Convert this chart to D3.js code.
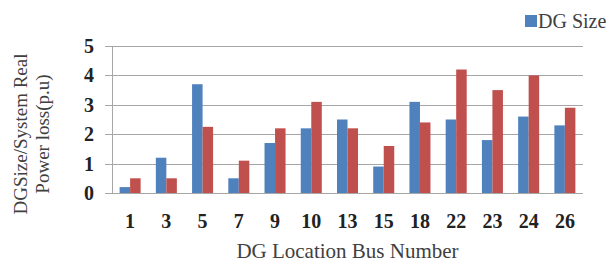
<!DOCTYPE html>
<html>
<head>
<meta charset="utf-8">
<script src="https://cdn.jsdelivr.net/npm/d3@7"></script>
<style>
  body { margin: 0; background: #fff; }
  svg { display: block; font-family: "Liberation Serif", "Times New Roman", serif; }
</style>
</head>
<body>
<div id="chart"></div>
<script>
const buses = ["1", "3", "5", "7", "9", "10", "13", "15", "18", "22", "23", "24", "26"];
const dgSize = [0.2, 1.2, 3.7, 0.5, 1.7, 2.2, 2.5, 0.9, 3.1, 2.5, 1.8, 2.6, 2.3];
const powerLoss = [0.5, 0.5, 2.25, 1.1, 2.2, 3.1, 2.2, 1.6, 2.4, 4.2, 3.5, 4.0, 2.9];
const yTicks = [0, 1, 2, 3, 4, 5];
const seriesNames = ["DG Size", "System Real Power loss"];
const colors = ["#4f81bd", "#c0504d"];

const width = 611, height = 262;
const margin = ({top: 46, right: 28, bottom: 69, left: 112});

const svg = d3.select("#chart")
    .append("svg")
    .attr("width", width)
    .attr("height", height);

const x = d3.scaleBand(buses, [margin.left, width - margin.right]);
const bw = x.bandwidth();
const x1 = d3.scaleBand([0, 1], [bw * 0.21, bw * 0.79]);
const y = d3.scaleLinear([0, 5], [height - margin.bottom, margin.top]);

// gridlines + small ticks left of the axis
svg.append("g")
    .attr("stroke", "#a6a6a6")
    .selectAll("line")
    .data(yTicks)
    .join("line")
    .attr("x1", margin.left - 7)
    .attr("x2", width - margin.right)
    .attr("y1", d => Math.round(y(d)) + 0.5)
    .attr("y2", d => Math.round(y(d)) + 0.5);

svg.append("line")
    .attr("stroke", "#a6a6a6")
    .attr("x1", margin.left + 0.5)
    .attr("x2", margin.left + 0.5)
    .attr("y1", y(5))
    .attr("y2", y(0));

// bars
const rows = buses.map((b, i) => ({bus: b, values: [dgSize[i], powerLoss[i]]}));

svg.append("g")
    .selectAll("g")
    .data(rows)
    .join("g")
    .attr("transform", d => `translate(${x(d.bus)},0)`)
    .selectAll("rect")
    .data(d => d.values.map((v, k) => ({k, v})))
    .join("rect")
    .attr("x", d => x1(d.k))
    .attr("width", x1.bandwidth())
    .attr("y", d => y(d.v))
    .attr("height", d => y(0) - y(d.v))
    .attr("fill", d => colors[d.k]);

// y tick labels
svg.append("g")
    .attr("font-size", 20)
    .attr("font-weight", "bold")
    .attr("fill", "#222")
    .attr("text-anchor", "end")
    .selectAll("text")
    .data(yTicks)
    .join("text")
    .attr("x", 94)
    .attr("y", d => y(d))
    .attr("dy", "0.35em")
    .text(d => d);

// x tick labels
svg.append("g")
    .attr("font-size", 20)
    .attr("font-weight", "bold")
    .attr("fill", "#222")
    .attr("text-anchor", "middle")
    .selectAll("text")
    .data(buses)
    .join("text")
    .attr("x", d => x(d) + bw / 2)
    .attr("y", 228)
    .text(d => d);

// axis titles
svg.append("text")
    .attr("font-size", 21)
    .attr("fill", "#404040")
    .attr("text-anchor", "middle")
    .attr("x", (margin.left + width - margin.right) / 2)
    .attr("y", 258)
    .text("DG Location Bus Number");

const yTitle = svg.append("text")
    .attr("font-size", 19)
    .attr("fill", "#404040")
    .attr("text-anchor", "middle")
    .attr("transform", "translate(27,134) rotate(-90)");
yTitle.append("tspan").attr("x", 0).attr("y", 0).text("DGSize/System Real");
yTitle.append("tspan").attr("x", 0).attr("y", 22).text("Power loss(p.u)");

// legend (only the first entry fits inside the picture)
const legend = svg.append("g").attr("transform", "translate(525,15)");
legend.append("rect")
    .attr("width", 12)
    .attr("height", 12)
    .attr("fill", colors[0]);
legend.append("text")
    .attr("x", 13)
    .attr("y", 12.5)
    .attr("font-size", 20)
    .attr("fill", "#404040")
    .text(seriesNames[0]);
</script>
</body>
</html>
